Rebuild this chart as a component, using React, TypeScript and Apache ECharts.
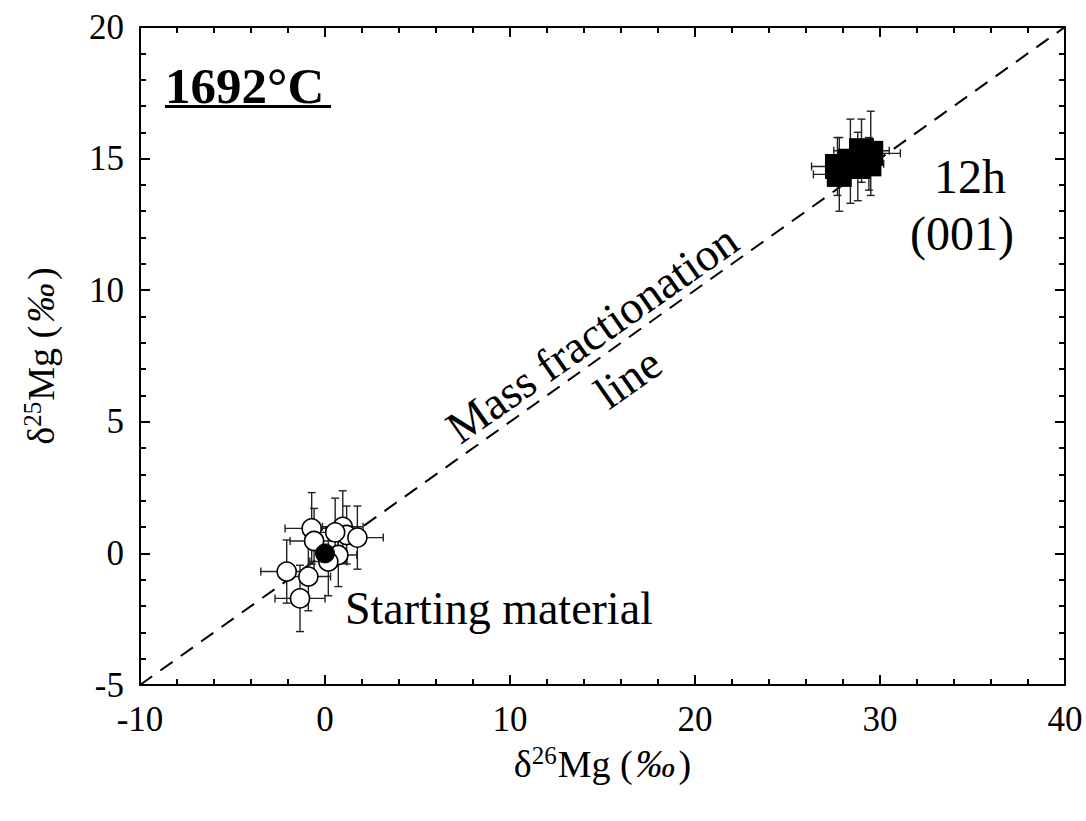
import React, { useEffect, useRef } from "react";
import * as echarts from "echarts";

// Open circles: starting material analyses [x, y, xErr, yErr]
const startX = [-0.72, -0.59, 0.96, 1.17, 1.75, 0.55, 0.72, 0.18, -2.07, -0.9, -1.35];
const startY = [0.95, 0.47, 1.01, 0.7, 0.6, 0.8, -0.06, -0.31, -0.69, -0.88, -1.71];
const startXErr = [1.44, 1.3, 1.1, 1.0, 1.4, 1.0, 1.0, 1.0, 1.4, 1.2, 1.35];
const startYErr = [1.36, 1.24, 1.37, 1.1, 1.2, 1.3, 1.2, 1.3, 1.2, 1.3, 1.26];

// Reference (filled circle)
const refPoint = [0, 0];

// Filled squares: 12h (001)
const runX = [27.7, 27.8, 28.4, 28.8, 29.0, 29.5, 29.4];
const runY = [14.7, 14.4, 14.9, 14.7, 15.3, 15.2, 14.8];
const runXErr = [1.4, 1.4, 0.6, 0.7, 1.5, 1.6, 0.8];
const runYErr = [1.1, 1.4, 1.6, 1.3, 1.2, 1.6, 1.0];

// Mass fractionation line end points
const lineX = [-10, 40];
const lineY = [-5, 20];

const FONT = "'Liberation Serif', 'Times New Roman', serif";

function build(xs: number[], ys: number[], xe: number[], ye: number[]) {
  return xs.map((x, i) => [x, ys[i], xe[i], ye[i]]);
}

function errRender(params: any, api: any) {
  const x = api.value(0);
  const y = api.value(1);
  const xe = api.value(2);
  const ye = api.value(3);
  const l = api.coord([x - xe, y]);
  const r = api.coord([x + xe, y]);
  const t = api.coord([x, y + ye]);
  const b = api.coord([x, y - ye]);
  const cap = 4;
  const st = { stroke: "#222", lineWidth: 1.4 };
  return {
    type: "group",
    children: [
      { type: "line", shape: { x1: l[0], y1: l[1], x2: r[0], y2: r[1] }, style: st },
      { type: "line", shape: { x1: t[0], y1: t[1], x2: b[0], y2: b[1] }, style: st },
      { type: "line", shape: { x1: l[0], y1: l[1] - cap, x2: l[0], y2: l[1] + cap }, style: st },
      { type: "line", shape: { x1: r[0], y1: r[1] - cap, x2: r[0], y2: r[1] + cap }, style: st },
      { type: "line", shape: { x1: t[0] - cap, y1: t[1], x2: t[0] + cap, y2: t[1] }, style: st },
      { type: "line", shape: { x1: b[0] - cap, y1: b[1], x2: b[0] + cap, y2: b[1] }, style: st },
    ],
  };
}

export default function App() {
  const ref = useRef<HTMLDivElement>(null);
  useEffect(() => {
    if (!ref.current) return;
    const chart = echarts.init(ref.current, null, { renderer: "svg" });
    const axisCommon = {
      type: "value" as const,
      axisLine: { show: true, onZero: false, lineStyle: { color: "#000", width: 2 } },
      axisTick: { show: true, inside: true, length: 10, lineStyle: { color: "#000", width: 2 } },
      minorTick: { show: true, splitNumber: 5, length: 6, lineStyle: { color: "#000", width: 2 } },
      splitLine: { show: false },
    };
    const labelStyle = { color: "#000", fontFamily: FONT, fontSize: 35 };
    const rich = {
      a: { fontFamily: FONT, fontSize: 38, color: "#000", fontStyle: "normal" as const },
      s: { fontFamily: FONT, fontSize: 25, color: "#000", fontStyle: "normal" as const, verticalAlign: "top" as const, padding: [0, 1, 16, 0] },
      i: { fontFamily: FONT, fontSize: 40, color: "#000", fontStyle: "italic" as const, padding: [0, 3, 0, 3] },
    };
    const nameStyle = { fontFamily: FONT, fontSize: 38, color: "#000", rich };
    chart.setOption({
      animation: false,
      backgroundColor: "#fff",
      grid: { left: 140, top: 27, right: 21, bottom: 136 },
      xAxis: [
        {
          ...axisCommon,
          position: "bottom",
          min: -10,
          max: 40,
          interval: 10,
          axisLabel: { ...labelStyle, margin: 17 },
          name: "{a|δ}{s|26}{a|Mg (}{i|‰}{a|)}",
          nameLocation: "middle",
          nameGap: 58,
          nameTextStyle: nameStyle,
        },
        {
          ...axisCommon,
          position: "top",
          min: -10,
          max: 40,
          interval: 10,
          axisLabel: { show: false },
        },
      ],
      yAxis: [
        {
          ...axisCommon,
          position: "left",
          min: -5,
          max: 20,
          interval: 5,
          axisLabel: { ...labelStyle, margin: 16 },
          name: "{a|δ}{s|25}{a|Mg (}{i|‰}{a|)}",
          nameLocation: "middle",
          nameGap: 79,
          nameTextStyle: nameStyle,
        },
        {
          ...axisCommon,
          position: "right",
          min: -5,
          max: 20,
          interval: 5,
          axisLabel: { show: false },
        },
      ],
      series: [
        {
          type: "line",
          data: lineX.map((x, i) => [x, lineY[i]]),
          showSymbol: false,
          symbol: "none",
          lineStyle: { color: "#000", width: 2, type: [15, 10] },
          z: 1,
          silent: true,
        },
        {
          type: "custom",
          renderItem: errRender,
          data: build(startX, startY, startXErr, startYErr),
          z: 2,
          silent: true,
        },
        {
          type: "scatter",
          data: startX.map((x, i) => [x, startY[i]]),
          symbol: "circle",
          symbolSize: 19,
          itemStyle: { color: "#fff", borderColor: "#000", borderWidth: 1.6, opacity: 1 },
          z: 3,
        },
        {
          type: "scatter",
          data: [refPoint],
          symbol: "circle",
          symbolSize: 19,
          itemStyle: { color: "#000", borderColor: "#000", borderWidth: 1, opacity: 1 },
          z: 4,
        },
        {
          type: "custom",
          renderItem: errRender,
          data: build(runX, runY, runXErr, runYErr),
          z: 2,
          silent: true,
        },
        {
          type: "scatter",
          data: runX.map((x, i) => [x, runY[i]]),
          symbol: "rect",
          symbolSize: 25,
          itemStyle: { color: "#000", opacity: 1 },
          z: 3,
        },
      ],
      graphic: [
        {
          type: "text",
          left: 165,
          top: 60,
          style: { text: "1692°C", font: `bold 51px ${FONT}`, fill: "#000" },
        },
        { type: "rect", shape: { x: 165, y: 105, width: 166, height: 3 }, style: { fill: "#000" } },
        {
          type: "text",
          x: 970,
          y: 176,
          style: { text: "12h", font: `48px ${FONT}`, fill: "#000", align: "center", verticalAlign: "middle" },
        },
        {
          type: "text",
          x: 962,
          y: 233,
          style: { text: "(001)", font: `48px ${FONT}`, fill: "#000", align: "center", verticalAlign: "middle" },
        },
        {
          type: "text",
          x: 345,
          y: 608,
          style: { text: "Starting material", font: `46px ${FONT}`, fill: "#000", align: "left", verticalAlign: "middle" },
        },
        {
          type: "text",
          x: 592,
          y: 334,
          rotation: (35 * Math.PI) / 180,
          style: { text: "Mass fractionation", font: `46px ${FONT}`, fill: "#000", align: "center", verticalAlign: "middle" },
        },
        {
          type: "text",
          x: 628,
          y: 378,
          rotation: (35 * Math.PI) / 180,
          style: { text: "line", font: `46px ${FONT}`, fill: "#000", align: "center", verticalAlign: "middle" },
        },
      ],
    });
    return () => chart.dispose();
  }, []);
  return (
    <div
      ref={ref}
      style={{ position: "fixed", left: 0, top: 0, width: 1086, height: 821, background: "#fff" }}
    />
  );
}
